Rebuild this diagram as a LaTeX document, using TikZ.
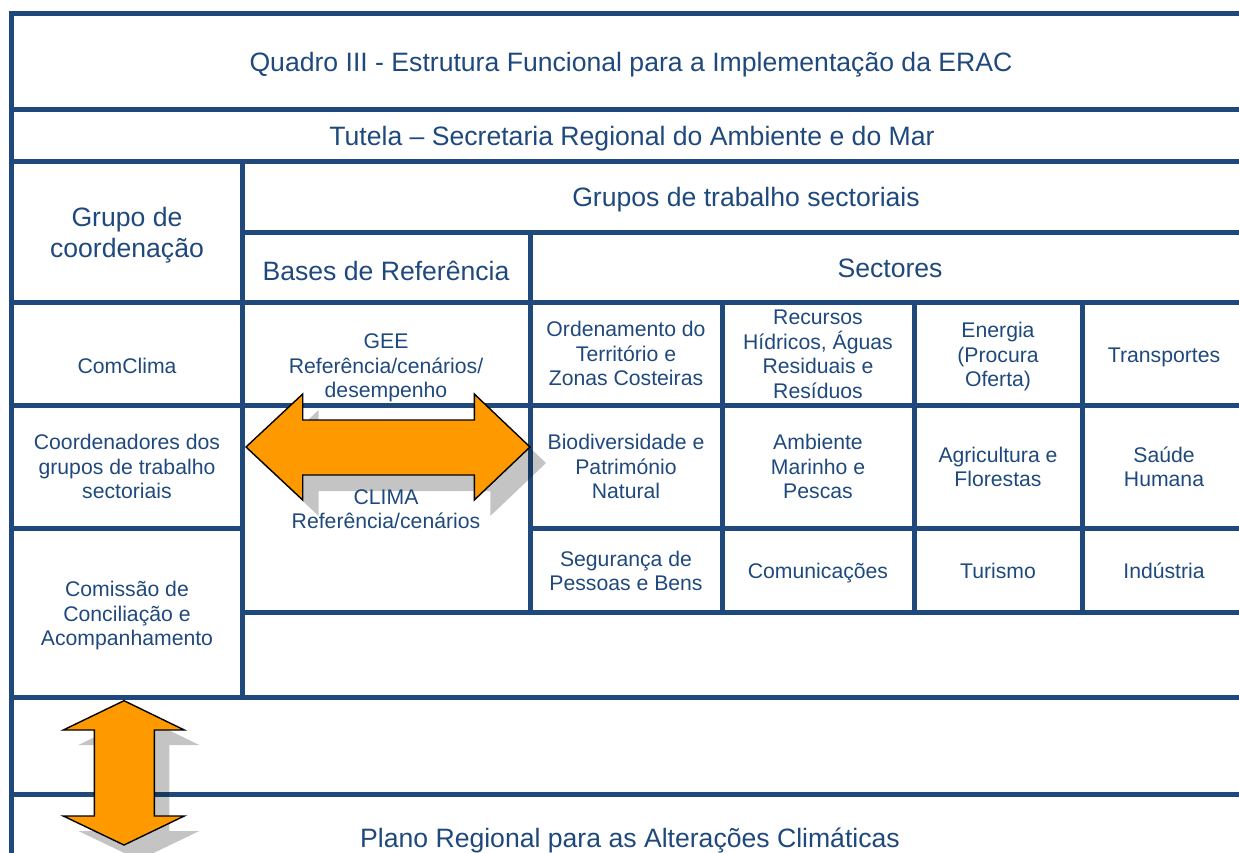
\documentclass[tikz,border=0pt]{standalone}
\usepackage{fontspec}
\setmainfont{Liberation Sans}
\definecolor{navy}{RGB}{31,73,125}
\definecolor{orng}{RGB}{255,153,0}
\begin{document}
\begin{tikzpicture}[x=1pt,y=-1pt,
  tline/.style={draw=navy,line width=5pt,line cap=rect},
  tbig/.style={font=\fontsize{26.6}{30.8}\selectfont,text=navy,align=center,inner sep=0pt},
  tsmall/.style={font=\fontsize{21.2}{24.5}\selectfont,text=navy,align=center,inner sep=0pt},
  arrowshape/.style={fill=orng,draw=black,line width=1.4pt,line join=miter},
  shadowshape/.style={fill=black,fill opacity=0.23,draw=none}]
\useasboundingbox (0,0) rectangle (1239,853);
\clip (0,0) rectangle (1239,853);
% horizontal rules
\foreach \y in {13.5,109.5,161.5,302.5,405,697,794}
  \draw[tline] (11.5,\y) -- (1250,\y);
\draw[tline] (242.5,232.5) -- (1250,232.5);
\draw[tline] (11.5,528) -- (242.5,528);
\draw[tline] (530,528) -- (1250,528);
\draw[tline] (242.5,612) -- (1250,612);
% vertical rules
\draw[tline] (11.5,13.5) -- (11.5,870);
\draw[tline] (242.5,161.5) -- (242.5,697);
\draw[tline] (530,232.5) -- (530,612);
\foreach \x in {722,914.5,1082.5}
  \draw[tline] (\x,302.5) -- (\x,612);
% shadows
\fill[shadowshape,shift={(16,16)}] (246,447) -- (302.7,394) -- (302.7,420) -- (474.3,420) -- (474.3,394) -- (530,447) -- (474.3,500) -- (474.3,475) -- (302.7,475) -- (302.7,500) -- cycle;
\fill[shadowshape,shift={(15,15)}] (124,700.7) -- (184.3,730) -- (154.3,730) -- (154.3,816) -- (184.3,816) -- (124,845) -- (63.3,816) -- (94.3,816) -- (94.3,730) -- (63.3,730) -- cycle;
% texts
\node[tbig] (title) at (631,64.8) {Quadro III - Estrutura Funcional para a Implementação da ERAC};
\node[tbig] (tutela) at (632,138.8) {Tutela – Secretaria Regional do Ambiente e do Mar};
\node[tbig] (gts) at (746,199.8) {Grupos de trabalho sectoriais};
\node[tbig] (gc) at (127,234.8) {Grupo de\\coordenação};
\node[tbig] (bases) at (386,270.8) {Bases de Referência};
\node[tbig] (sect) at (890,268) {Sectores};
\node[tbig,anchor=base] (plano) at (630,847) {Plano Regional para as Alterações Climáticas};
\node[tsmall] (comclima) at (127,366) {ComClima};
\node[tsmall] (gee) at (386,368.2) {GEE\\Referência/cenários/\\desempenho};
\node[tsmall] (ord) at (626,353.5) {Ordenamento do\\Território e\\Zonas Costeiras};
\node[tsmall] (rec) at (818,354.5) {Recursos\\Hídricos, Águas\\Residuais e\\Resíduos};
\node[tsmall] (ener) at (998,356.7) {Energia\\(Procura\\Oferta)};
\node[tsmall] (transp) at (1164,357.2) {Transportes};
\node[tsmall] (coord) at (127,466.5) {Coordenadores dos\\grupos de trabalho\\sectoriais};
\node[tsmall] (bio) at (626,466.5) {Biodiversidade e\\Património\\Natural};
\node[tsmall] (amb) at (818,466.5) {Ambiente\\Marinho e\\Pescas};
\node[tsmall] (agri) at (998,467) {Agricultura e\\Florestas};
\node[tsmall] (saude) at (1164,467) {Saúde\\Humana};
\node[tsmall] (clima) at (386,509) {CLIMA\\Referência/cenários};
\node[tsmall] (comiss) at (127,615.7) {Comissão de\\Conciliação e\\Acompanhamento};
\node[tsmall] (seg) at (626,571) {Segurança de\\Pessoas e Bens};
\node[tsmall] (comun) at (818,573.2) {Comunicações};
\node[tsmall] (tur) at (998,571) {Turismo};
\node[tsmall] (ind) at (1164,571) {Indústria};
% arrows
\draw[arrowshape] (246,447) -- (302.7,394) -- (302.7,420) -- (474.3,420) -- (474.3,394) -- (530,447) -- (474.3,500) -- (474.3,475) -- (302.7,475) -- (302.7,500) -- cycle;
\draw[arrowshape] (124,700.7) -- (184.3,730) -- (154.3,730) -- (154.3,816) -- (184.3,816) -- (124,845) -- (63.3,816) -- (94.3,816) -- (94.3,730) -- (63.3,730) -- cycle;
\end{tikzpicture}
\end{document}
